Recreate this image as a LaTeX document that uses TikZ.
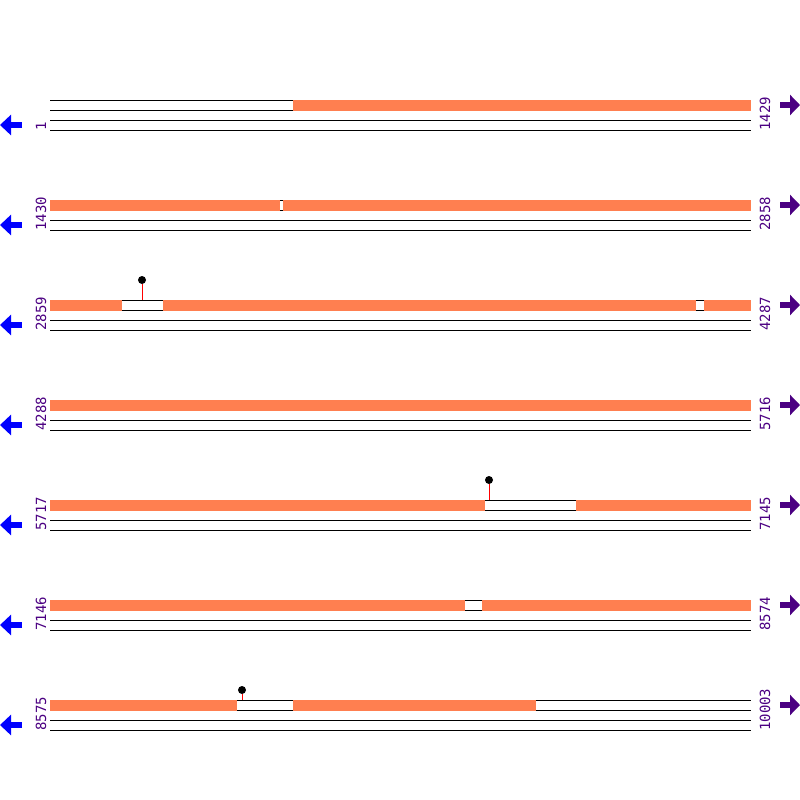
\documentclass[tikz,border=0pt]{standalone}
\usepackage{fontspec}
\setmonofont{DejaVu Sans Mono}
\definecolor{coral}{HTML}{FF7F50}
\definecolor{indigo}{HTML}{4B0082}
\usetikzlibrary{arrows.meta, positioning}

\begin{document}
\begin{tikzpicture}[x=1pt, y=-1pt,
  trackline/.style={draw=black, line width=1pt},
  covered/.style={fill=coral},
  poslabel/.style={font=\ttfamily\fontsize{14}{14}\selectfont, text=indigo,
                   rotate=90, anchor=west, inner sep=0pt},
  backarrow/.style={-{Triangle[length=11pt, width=20pt]}, line width=6pt, blue},
  fwdarrow/.style={-{Triangle[length=10pt, width=20pt]}, line width=6pt, indigo},
  stem/.style={draw=red, line width=1pt},
  knob/.style={circle, fill=black, minimum size=8pt, inner sep=0pt},
]
\useasboundingbox (0,0) rectangle (800,800);

% tracks of every row
\foreach \r in {1,...,7} {
  \foreach \dy in {0,10,20,30}
    \draw[trackline] (50,\r*100+\dy) -- (751,\r*100+\dy);
  \coordinate (bs\r) at (22,\r*100+25);
  \coordinate (be\r) at (0,\r*100+25);
  \coordinate (fs\r) at (780,\r*100+5);
  \coordinate (fe\r) at (800,\r*100+5);
  \draw[backarrow] (bs\r) -- (be\r);
  \draw[fwdarrow] (fs\r) -- (fe\r);
}

% row 1
\fill[covered] (293,99.5) rectangle (751,110.5);
% row 2
\fill[covered] (50,199.5) rectangle (280,210.5);
\fill[covered] (283,199.5) rectangle (751,210.5);
% row 3
\fill[covered] (50,299.5) rectangle (122,310.5);
\fill[covered] (163,299.5) rectangle (696,310.5);
\fill[covered] (704,299.5) rectangle (751,310.5);
% row 4
\fill[covered] (50,399.5) rectangle (751,410.5);
% row 5
\fill[covered] (50,499.5) rectangle (485,510.5);
\fill[covered] (576,499.5) rectangle (751,510.5);
% row 6
\fill[covered] (50,599.5) rectangle (465,610.5);
\fill[covered] (482,599.5) rectangle (751,610.5);
% row 7
\fill[covered] (50,699.5) rectangle (237,710.5);
\fill[covered] (293,699.5) rectangle (536,710.5);

% markers
\node[knob] (m1) at (142,280) {};
\coordinate (m1b) at (142,300);
\draw[stem] (m1) -- (m1b);
\node[knob] (m2) at (489,480) {};
\coordinate (m2b) at (489,500);
\draw[stem] (m2) -- (m2b);
\node[knob] (m3) at (242,690) {};
\coordinate (m3b) at (242,700);
\draw[stem] (m3) -- (m3b);

% position labels
\node[poslabel] (l1) at (41,131) {1};
\node[poslabel] (r1) at (765,131) {1429};
\node[poslabel] (l2) at (41,231) {1430};
\node[poslabel] (r2) at (765,231) {2858};
\node[poslabel] (l3) at (41,331) {2859};
\node[poslabel] (r3) at (765,331) {4287};
\node[poslabel] (l4) at (41,431) {4288};
\node[poslabel] (r4) at (765,431) {5716};
\node[poslabel] (l5) at (41,531) {5717};
\node[poslabel] (r5) at (765,531) {7145};
\node[poslabel] (l6) at (41,631) {7146};
\node[poslabel] (r6) at (765,631) {8574};
\node[poslabel] (l7) at (41,731) {8575};
\node[poslabel] (r7) at (765,731) {10003};
\end{tikzpicture}
\end{document}
